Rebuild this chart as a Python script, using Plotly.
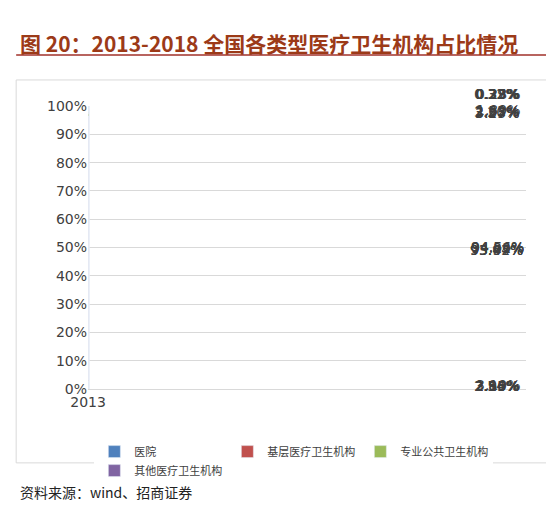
import plotly.graph_objects as go

years = ["2013", "2014", "2015", "2016", "2017", "2018"]
hospital = [2.54, 2.63, 2.80, 2.96, 3.15, 3.19]
grassroots = [93.94, 93.47, 93.62, 94.22, 94.56, 94.64]
public_health = [3.20, 3.57, 3.25, 2.53, 2.02, 1.89]
other = [0.32, 0.33, 0.33, 0.29, 0.27, 0.28]

names = ["医院", "基层医疗卫生机构", "专业公共卫生机构", "其他医疗卫生机构"]
colors = ["#4F81BD", "#C0504D", "#9BBB59", "#8064A2"]
series = [hospital, grassroots, public_health, other]

fig = go.Figure()
for name, vals, c in zip(names, series, colors):
    fig.add_trace(go.Bar(x=years, y=vals, name=name, marker_color=c, width=0.42))

# value labels
font = dict(family="DejaVu Sans", size=14, color="#404040")
for i, yr in enumerate(years):
    base = 0
    for k, vals in enumerate(series):
        v = vals[i]
        if k == 3:
            y, shift = base + v, 12
        else:
            y, shift = base + v / 2, -1
        fig.add_annotation(x=yr, y=y, yshift=shift, text=f"{v:.2f}%",
                           showarrow=False, font=font)
        base += v

fig.add_annotation(xref="paper", yref="paper", x=-0.16, y=1.283, xanchor="left",
                   text="<b>图 20：2013-2018 全国各类型医疗卫生机构占比情况</b>",
                   showarrow=False,
                   font=dict(family="Noto Sans CJK SC", size=21, color="#9C3A18"))
fig.add_annotation(xref="paper", yref="paper", x=-0.16, y=-0.406, xanchor="left",
                   text="资料来源：wind、招商证券", showarrow=False,
                   font=dict(family="Noto Sans CJK SC", size=14, color="#222222"))
fig.add_shape(type="line", xref="paper", yref="paper", x0=-0.164, x1=1.065,
              y0=1.18, y1=1.18, line=dict(color="#A0302A", width=1.5))
fig.add_shape(type="rect", xref="paper", yref="paper", x0=-0.164, x1=1.05,
              y0=-0.261, y1=1.092, line=dict(color="#D9D9D9", width=1))

fig.update_layout(
    barmode="stack",
    width=554, height=517,
    margin=dict(l=80, r=36, t=98, b=136),
    plot_bgcolor="white", paper_bgcolor="white",
    showlegend=True,
    legend=dict(orientation="h", x=0.47, xanchor="center", y=-0.17, yanchor="top",
                font=dict(family="Noto Sans CJK SC", size=11, color="#404040"),
                itemwidth=30, entrywidth=0, traceorder="normal"),
    xaxis=dict(type="category",
               tickfont=dict(family="DejaVu Sans", size=14, color="#404040"),
               showline=True, linecolor="#D9D9D9"),
    yaxis=dict(range=[0, 100], dtick=10, ticksuffix="%", gridcolor="#D9D9D9",
               tickfont=dict(family="DejaVu Sans", size=14, color="#404040"),
               zeroline=False),
)

fig.write_html("out.html")
